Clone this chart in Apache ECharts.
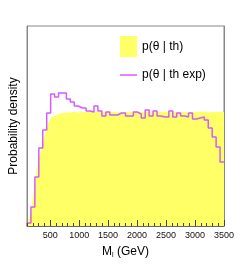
<!DOCTYPE html>
<html>
<head>
<meta charset="utf-8">
<script src="https://cdn.jsdelivr.net/npm/echarts@6/dist/echarts.min.js"></script>
<style>
html,body{margin:0;padding:0;background:#fff;}
#chart{width:249px;height:266px;}
</style>
</head>
<body>
<div id="chart"></div>
<script>
// ---- data ----
const xMin = 100;
const xMax = 3500;
const thBinWidth = 34;   // 100 bins
const expBinWidth = 68;  // 50 bins

const thValues = [
  3, 8, 14, 28, 42, 56, 66, 76, 84, 91,
  97, 103, 108, 110, 111, 112, 112.5, 113, 113, 113.5,
  114, 113.5, 114, 114.5, 114, 113.5, 114, 114, 113.5, 114,
  114.5, 114, 113.5, 114, 114, 114.5, 114, 113.5, 114, 114,
  113.5, 114, 114.5, 114, 114, 113.5, 114, 114, 114.5, 114,
  113.5, 114, 114, 114.5, 114, 113.5, 114, 114, 113.5, 114,
  114.5, 114, 114, 113.5, 114, 114, 114.5, 114, 113.5, 114,
  114, 114.5, 114, 113.5, 114, 114, 113.5, 114, 114.5, 114,
  114, 113.5, 114, 114, 114.5, 114, 113.5, 114, 114, 114.5,
  114, 113.5, 114, 114, 114.5, 114, 113.5, 114, 114, 114
];

const expValues = [
  3, 19, 49, 78, 96, 113, 132, 129, 133, 133,
  127, 124, 120, 118, 118, 115, 114, 120, 115, 110,
  114, 111, 111, 113, 113, 110, 110, 114, 112, 108,
  116, 110, 115, 110, 109, 109, 115, 109, 113, 110,
  109, 113, 107, 108, 109, 106, 98, 89, 79, 64
];

const thName = 'p(θ | th)';
const expName = 'p(θ | th exp)';
const xTitle = 'M{sub|l} (GeV)';
const yTitle = 'Probability density';

// ---- build step points ----
const thPoints = thValues.map((v, i) => [xMin + i * thBinWidth, v]);
thPoints.push([xMax, thValues[thValues.length - 1]]);
const expPoints = [[xMin, 0]].concat(expValues.map((v, i) => [xMin + i * expBinWidth, v]));
expPoints.push([xMax, expValues[expValues.length - 1]]);

const YELLOW = '#ffff66';
const MAGENTA = '#d45cff';
const FONT = "'Liberation Sans', Arial, sans-serif";

const chart = echarts.init(document.getElementById('chart'));
chart.setOption({
  animation: false,
  backgroundColor: '#fff',
  textStyle: { fontFamily: FONT, color: '#000' },
  grid: { left: 25, right: 25, top: 26, bottom: 40, show: true, borderColor: '#888', borderWidth: 1, backgroundColor: '#fff' },
  legend: [
    {
      left: 120, top: 36, padding: 0, itemWidth: 17, itemHeight: 21, icon: 'rect',
      textStyle: { fontSize: 12, fontFamily: FONT, color: '#000' },
      data: [{ name: thName, itemStyle: { color: YELLOW } }],
      selectedMode: false
    },
    {
      left: 120, top: 69, padding: 0, itemWidth: 17, itemHeight: 1.5, icon: 'rect',
      textStyle: { fontSize: 12, fontFamily: FONT, color: '#000' },
      data: [{ name: expName, itemStyle: { color: MAGENTA } }],
      selectedMode: false
    }
  ],
  xAxis: [
    {
      type: 'value', min: xMin, max: xMax, interval: 100, position: 'bottom', z: 5,
      axisLine: { show: true, lineStyle: { color: '#666', width: 1 } },
      axisTick: { show: true, inside: true, length: 3, lineStyle: { color: '#444' } },
      axisLabel: { show: false },
      splitLine: { show: false }
    },
    {
      type: 'value', min: xMin, max: xMax, position: 'bottom', z: 5,
      axisLine: { show: false },
      axisTick: { show: true, inside: true, length: 6, lineStyle: { color: '#444' } },
      axisLabel: { show: true, fontSize: 9, margin: 5, color: '#111', fontFamily: FONT,
        showMinLabel: false, showMaxLabel: true, formatter: v => String(v) },
      splitLine: { show: false },
      name: xTitle, nameLocation: 'middle', nameGap: 19,
      nameTextStyle: { fontSize: 12, fontFamily: FONT, color: '#000',
        rich: { sub: { fontSize: 7, verticalAlign: 'bottom', padding: [7, 0, 0, 0], fontFamily: FONT } } }
    }
  ],
  yAxis: [
    {
      type: 'value', min: 0, max: 200, position: 'left', z: 5,
      axisLine: { show: true, lineStyle: { color: '#888' } },
      axisTick: { show: false }, axisLabel: { show: false }, splitLine: { show: false },
      name: yTitle, nameLocation: 'middle', nameGap: 7, nameRotate: 90,
      nameTextStyle: { fontSize: 12, fontFamily: FONT, color: '#000' }
    },
    {
      type: 'value', min: 0, max: 200, position: 'right', z: 5,
      axisLine: { show: true, lineStyle: { color: '#888' } },
      axisTick: { show: false }, axisLabel: { show: false }, splitLine: { show: false }
    }
  ],
  series: [
    {
      name: thName, type: 'line', step: 'end', data: thPoints, xAxisIndex: 0, yAxisIndex: 0,
      showSymbol: false, symbol: 'none',
      lineStyle: { width: 0, color: YELLOW }, itemStyle: { color: YELLOW },
      areaStyle: { color: YELLOW, opacity: 1 }, z: 2
    },
    {
      name: expName, type: 'line', step: 'end', data: expPoints, xAxisIndex: 0, yAxisIndex: 0,
      showSymbol: false, symbol: 'none',
      lineStyle: { width: 1.5, color: MAGENTA }, itemStyle: { color: MAGENTA }, z: 3
    }
  ]
});
</script>
</body>
</html>
